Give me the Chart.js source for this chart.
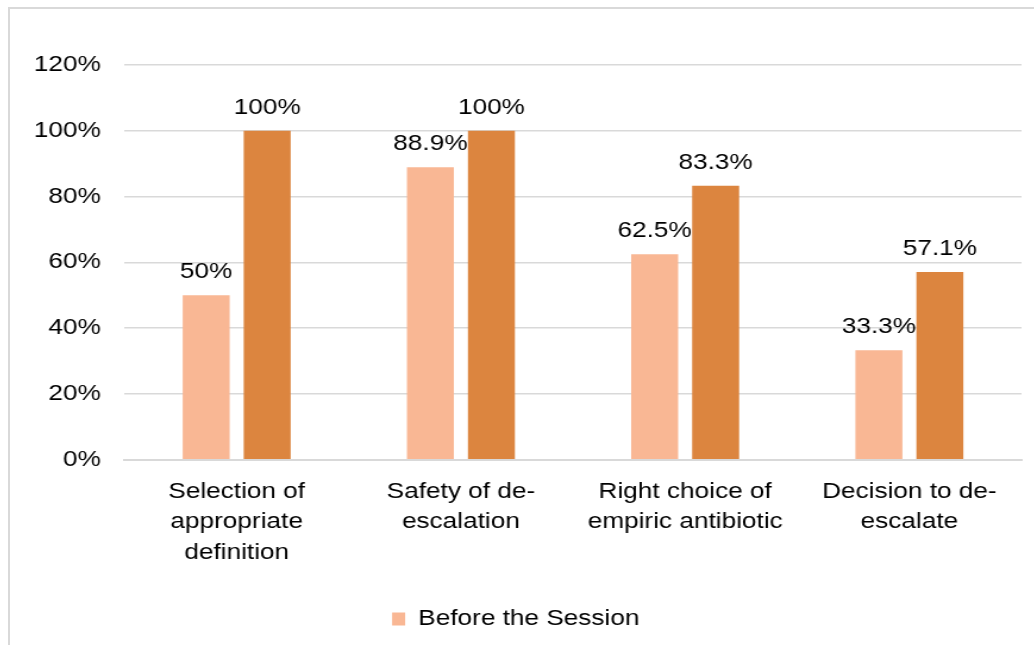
<!DOCTYPE html>
<html>
<head>
<meta charset="utf-8">
<script src="https://cdn.jsdelivr.net/npm/chart.js@4.4.1/dist/chart.umd.min.js"></script>
<style>
    html, body { margin: 0; padding: 0; background: #fff; overflow: hidden; width: 1034px; height: 645px; }
    #frame { position: absolute; left: 8px; top: 7px; width: 1100px; height: 700px;
             border-left: 2px solid #d9d9d9; border-top: 2px solid #d9d9d9; }
    /* the reference is a bit wider than tall, so the canvas is stretched sideways */
    #chart { position: absolute; left: 0; top: 0; transform: scaleX(1.19); transform-origin: 0 0; }
</style>
</head>
<body>
<div id="frame"><canvas id="chart" width="860" height="636"></canvas></div>
<script>
// ================= DATA =================

const categories = [
    ["Selection of", "appropriate", "definition"],
    ["Safety of de-", "escalation"],
    ["Right choice of", "empiric antibiotic"],
    ["Decision to de-", "escalate"],
];
const beforeValues = [50, 88.9, 62.5, 33.3];
const afterValues = [100, 100, 83.3, 57.1];
const yTicks = [0, 20, 40, 60, 80, 100, 120];

const FONT = "'Liberation Sans', Arial, sans-serif";

// ================= LABEL PLUGIN =================

const barLabels = {
    id: "barLabels",
    afterDatasetsDraw(chart) {
        const ctx = chart.ctx;
        ctx.save();
        ctx.font = `22px ${FONT}`;
        ctx.fillStyle = "#000";
        ctx.textAlign = "center";
        ctx.textBaseline = "alphabetic";
        chart.data.datasets.forEach((ds, i) => {
            chart.getDatasetMeta(i).data.forEach((bar, j) => {
                ctx.fillText(ds.data[j] + "%", bar.x, bar.y - 17);
            });
        });
        ctx.restore();
    },
};

// ================= CHART =================

new Chart(document.getElementById("chart"), {
    type: "bar",
    data: {
        labels: categories,
        datasets: [
            {
                label: "Before the Session",
                data: beforeValues,
                backgroundColor: "#f9b794",
                categoryPercentage: 0.544,
                barPercentage: 0.77,
            },
            {
                label: "After the Session",
                data: afterValues,
                backgroundColor: "#dc853f",
                categoryPercentage: 0.544,
                barPercentage: 0.77,
            },
        ],
    },
    options: {
        responsive: false,
        animation: false,
        layout: { padding: { left: 0, right: 10, top: 56, bottom: 5 } },
        plugins: {
            legend: {
                position: "bottom",
                title: { display: true, text: " ", font: { size: 1 }, padding: { top: 0, bottom: 20 } },
                labels: {
                    color: "#000",
                    font: { family: FONT, size: 22 },
                    boxWidth: 11,
                    boxHeight: 13,
                    padding: 10,
                    filter: (item) => item.datasetIndex === 0,
                },
            },
            tooltip: { enabled: false },
        },
        scales: {
            x: {
                grid: { display: false },
                border: { color: "#d9d9d9", width: 2 },
                ticks: {
                    color: "#000",
                    font: { family: FONT, size: 22, lineHeight: 1.38 },
                    padding: 9,
                    maxRotation: 0,
                },
            },
            y: {
                min: 0,
                max: 120,
                afterBuildTicks: (axis) => {
                    axis.ticks = yTicks.map((v) => ({ value: v }));
                },
                grid: { color: "#d9d9d9", lineWidth: 1.5, drawTicks: false },
                border: { display: false },
                ticks: {
                    color: "#000",
                    font: { family: FONT, size: 22 },
                    padding: 20,
                    callback: (v) => v + "%",
                },
            },
        },
    },
    plugins: [barLabels],
});
</script>
</body>
</html>
